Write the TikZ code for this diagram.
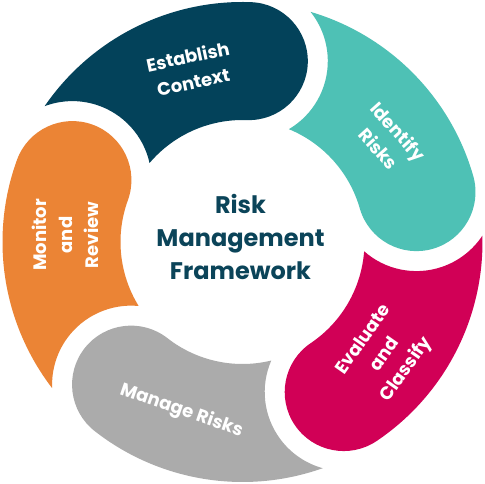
\documentclass[tikz,border=0pt]{standalone}
\usepackage{fontspec}
\setmainfont{Poppins}
\definecolor{navyc}{HTML}{03425A}
\definecolor{tealc}{HTML}{4EC1B5}
\definecolor{magc}{HTML}{D10056}
\definecolor{orangec}{HTML}{EB8435}
\definecolor{grayc}{HTML}{ABABAB}
\definecolor{titlec}{HTML}{0B4459}
\newcommand{\ringblob}[2]{%
  \fill[#2] ({145.53+#1}:240pt)
    arc[start angle={145.53+#1}, end angle={88+#1}, radius=240pt]
    arc[start angle={88+#1}, end angle={-92+#1}, radius=59pt]
    arc[start angle={88+#1}, end angle={139.64+#1}, radius=122pt]
    arc[start angle={12.51+#1}, end angle={110.62+#1}, radius=79pt]
    -- cycle;}
\tikzset{
  lbl/.style={text=white, font=\bfseries\fontsize{18}{26}\selectfont, align=center, inner sep=0pt},
  ttl/.style={text=titlec, font=\bfseries\fontsize{24}{33}\selectfont, align=center, inner sep=0pt}
}
\begin{document}
\begin{tikzpicture}[x=1pt,y=1pt]
\fill[white] (-242.5,-242) rectangle (242.5,242);
\useasboundingbox (-242.5,-242) rectangle (242.5,242);
\ringblob{0}{navyc}
\ringblob{-72}{tealc}
\ringblob{-144}{magc}
\ringblob{-216}{grayc}
\ringblob{-288}{orangec}
\node[lbl, rotate=12] (est) at (-52,173) {Establish\\Context};
\node[lbl, rotate=-48] (ide) at (146,102) {Identify\\Risks};
\node[lbl, rotate=55] (eva) at (143,-113) {Evaluate\\and\\Classify};
\node[lbl, rotate=-19] (man) at (-61,-169) {Manage Risks};
\node[lbl, rotate=90] (mon) at (-177,7) {Monitor\\and\\Review};
\node[ttl] (ctr) at (-2,5) {Risk\\Management\\Framework};
\end{tikzpicture}
\end{document}
